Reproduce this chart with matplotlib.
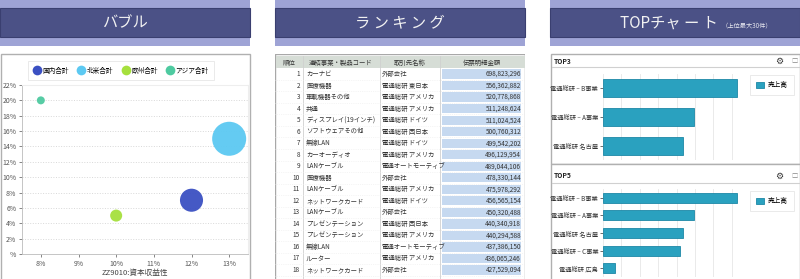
import matplotlib
matplotlib.use("Agg")
import matplotlib.pyplot as plt
from matplotlib.patches import Rectangle
from matplotlib.lines import Line2D
import numpy as np

plt.rcParams['font.family'] = ['Noto Sans CJK JP', 'DejaVu Sans']

W, H = 800, 279

# ---- data ----
bubble_names = ['国内合計', '北米合計', '欧州合計', 'アジア合計']
bubble_x = [12, 13, 10, 8]          # ZZ9010:資本収益性 (%)
bubble_y = [7, 15, 5, 20]           # (%)
bubble_size = [46, 100, 12.5, 5.5]  # relative bubble area
bubble_colors = ['#3b50c2', '#5cc9f2', '#a6e03d', '#4ecaa0']

rank_cols = ['順位', '連結事業・製品コード', '取引先名称', '伝票明細金額']
ranks = list(range(1, 19))
products = ['カーナビ', '医療機器', '車載機器その他', '共通', 'ディスプレイ(19インチ)',
            'ソフトウェアその他', '無線LAN', 'カーオーディオ', 'LANケーブル', '医療機器',
            'LANケーブル', 'ネットワークカード', 'LANケーブル', 'プレゼンテーション',
            'プレゼンテーション', '無線LAN', 'ルーター', 'ネットワークカード']
partners = ['外部会社', '電通総研 東日本', '電通総研 アメリカ', '電通総研 アメリカ',
            '電通総研 ドイツ', '電通総研 西日本', '電通総研 ドイツ', '電通総研 アメリカ',
            '電通オートモーティブ', '外部会社', '電通総研 アメリカ', '電通総研 ドイツ',
            '外部会社', '電通総研 西日本', '電通総研 アメリカ', '電通オートモーティブ',
            '電通総研 アメリカ', '外部会社']
amounts = [698823296, 556362882, 520778868, 511248624, 511024524, 500760312,
           499542202, 496129954, 489044106, 478330144, 475978292, 456565154,
           450320488, 440340918, 440294588, 437386150, 436065246, 427529094]

top3_names = ['電通総研 – B事業', '電通総研 – A事業', '電通総研 名古屋']
top3_values = [7.3, 4.95, 4.35]
top5_names = ['電通総研 – B事業', '電通総研 – A事業', '電通総研 名古屋', '電通総研 – C事業', '電通総研 広島']
top5_values = [7.3, 4.95, 4.35, 4.2, 0.65]

BAR = '#2aa1bf'
BAR_EDGE = '#1d88a6'
GRAY = '#555555'
TXT = '#333333'


def rect(x0, y0, x1, y1):
    return [x0 / W, 1 - y1 / H, (x1 - x0) / W, (y1 - y0) / H]


fig = plt.figure(figsize=(8, 2.79), dpi=100)

# background canvas in pixel coordinates
bg = fig.add_axes([0, 0, 1, 1], zorder=0)
bg.set_xlim(0, W)
bg.set_ylim(H, 0)
bg.axis('off')


def header(x0, x1):
    bg.add_patch(Rectangle((x0, 0), x1 - x0, 46, fc='#9ea3d5', ec='none'))
    bg.add_patch(Rectangle((x0, 8), x1 - x0, 29, fc='#4b5186', ec='#3a3f70', lw=0.8))


header(0, 250)
header(275, 525)
header(550, 800)
bg.text(125, 23, 'バブル', color='#f2f2f2', fontsize=11, ha='center', va='center')
bg.text(400, 23, 'ラ ン キ ン グ', color='#f2f2f2', fontsize=11, ha='center', va='center')
bg.text(620, 23, 'TOPチャ ー ト', color='#f2f2f2', fontsize=11, ha='left', va='center')
bg.text(722, 25, '（上位最大30件）', color='#e8e8f0', fontsize=4.5, ha='left', va='center')

# panel borders
bg.add_patch(Rectangle((0.5, 54), 249, 226, fc='white', ec='#b0b0b0', lw=1))
bg.add_patch(Rectangle((551, 54), 248.5, 110, fc='white', ec='#b0b0b0', lw=1))
bg.add_patch(Rectangle((551, 164), 248.5, 116, fc='white', ec='#b0b0b0', lw=1))
bg.plot([552, 799], [67, 67], color='#d0d0d0', lw=0.8)
bg.plot([552, 799], [183, 183], color='#d0d0d0', lw=0.8)
for ty, lab in [(61, 'TOP3'), (176, 'TOP5')]:
    bg.text(554, ty, lab, fontsize=4.8, fontweight='bold', color='#222222', va='center')
    bg.text(779, ty, '⚙', fontsize=6.5, color=TXT, ha='center', va='center')
    bg.text(794, ty, '□', fontsize=4.5, color='#888888', ha='center', va='center')

# ---- bubble chart ----
ax = fig.add_axes(rect(22, 85, 248, 254), zorder=2)
ax.set_facecolor('none')
ax.scatter(bubble_x, bubble_y, s=np.array(bubble_size) * 6, c=bubble_colors,
           alpha=0.95, edgecolors='none', zorder=3)
ax.set_xlim(7.5, 13.5)
ax.set_ylim(0, 22)
ax.set_xticks([8, 9, 10, 11, 12, 13])
ax.set_xticklabels([f'{v}%' for v in [8, 9, 10, 11, 12, 13]])
yt = list(range(0, 23, 2))
ax.set_yticks(yt)
ax.set_yticklabels(['%' if v == 0 else f'{v}%' for v in yt])
ax.tick_params(labelsize=5, colors=GRAY, length=2, width=0.5, pad=2)
ax.grid(axis='y', color='#d8d8d8', linestyle=':', lw=0.7)
for s in ['top', 'right']:
    ax.spines[s].set_color('#eeeeee')
for s in ['left', 'bottom']:
    ax.spines[s].set_color('#bbbbbb')
    ax.spines[s].set_linewidth(0.6)
ax.set_xlabel('ZZ9010:資本収益性', fontsize=5.5, color='#444444', labelpad=1)
handles = [Line2D([], [], marker='o', ls='none', ms=7, mfc=c, mec='none') for c in bubble_colors]
leg = ax.legend(handles, bubble_names, ncol=4, loc='upper center',
                bbox_to_anchor=(121 / W, 1 - 58 / H), bbox_transform=fig.transFigure,
                fontsize=4.8, frameon=True, fancybox=False, handletextpad=0.3,
                columnspacing=1.4, borderpad=0.8, handlelength=1.0)
leg.get_frame().set_edgecolor('#e0e0e0')
leg.get_frame().set_linewidth(0.6)

# ---- ranking table ----
tb = fig.add_axes(rect(275, 54, 525, 279), zorder=2)
tb.set_xlim(275, 525)
tb.set_ylim(18.78, -0.74)
tb.axis('off')
tb.add_patch(Rectangle((275, -0.74), 250, 19.6, fc='white', ec='#a8a8a8', lw=1))
tb.add_patch(Rectangle((275.5, -0.55), 249, 1.05, fc='#d6ddd6', ec='none'))
tb.barh(ranks, [79] * len(ranks), left=442, height=0.8, color='#c6d9f0', zorder=2)
for xc in [303, 380, 440]:
    tb.plot([xc, xc], [-0.55, 18.78], color='#d0d0d0', lw=0.6)
for r in ranks:
    tb.plot([275, 525], [r + 0.5, r + 0.5], color='#ececec', lw=0.5, ls=':')
FS = 4.6
hx = [289, 341, 410, 482]
for x, lab in zip(hx, rank_cols):
    tb.text(x, 0, lab, fontsize=FS, color=TXT, ha='center', va='center')
for r, p, q, a in zip(ranks, products, partners, amounts):
    tb.text(300, r, str(r), fontsize=FS, color=TXT, ha='right', va='center', zorder=3)
    tb.text(306, r, p, fontsize=FS, color=TXT, ha='left', va='center', zorder=3)
    tb.text(382, r, q, fontsize=FS, color=TXT, ha='left', va='center', zorder=3)
    tb.text(521, r, f'{a:,}', fontsize=FS, color=TXT, ha='right', va='center', zorder=3)


# ---- TOP charts ----
def top_chart(box, names, values, bar_h, legend_top):
    a = fig.add_axes(rect(*box), zorder=2)
    y = np.arange(len(names))
    a.barh(y, values, height=bar_h, color=BAR, edgecolor=BAR_EDGE, lw=0.6, label='売上高', zorder=3)
    a.set_ylim(len(names) - 0.5, -0.5)
    a.set_xlim(0, 8)
    a.set_xticks(range(0, 9))
    a.tick_params(axis='x', labelbottom=False, length=0)
    a.set_yticks(y)
    a.set_yticklabels(names)
    a.tick_params(axis='y', labelsize=4.5, colors=TXT, length=2, width=0.5, pad=1.5)
    a.grid(axis='x', color='#e6e6e6', lw=0.6)
    for s in a.spines.values():
        s.set_visible(False)
    a.set_facecolor('none')
    lg = a.legend(loc='upper right', bbox_to_anchor=(797 / W, 1 - legend_top / H),
                  bbox_transform=fig.transFigure, fontsize=4.8, fancybox=False,
                  handlelength=1.3, handleheight=0.9, handletextpad=0.5, borderpad=0.9)
    lg.get_frame().set_edgecolor('#e0e0e0')
    lg.get_frame().set_linewidth(0.6)


top_chart((603, 74, 750, 160), top3_names, top3_values, 0.62, 72)
top_chart((603, 189, 750, 277), top5_names, top5_values, 0.57, 188)

fig.savefig('out.png', dpi=100)
